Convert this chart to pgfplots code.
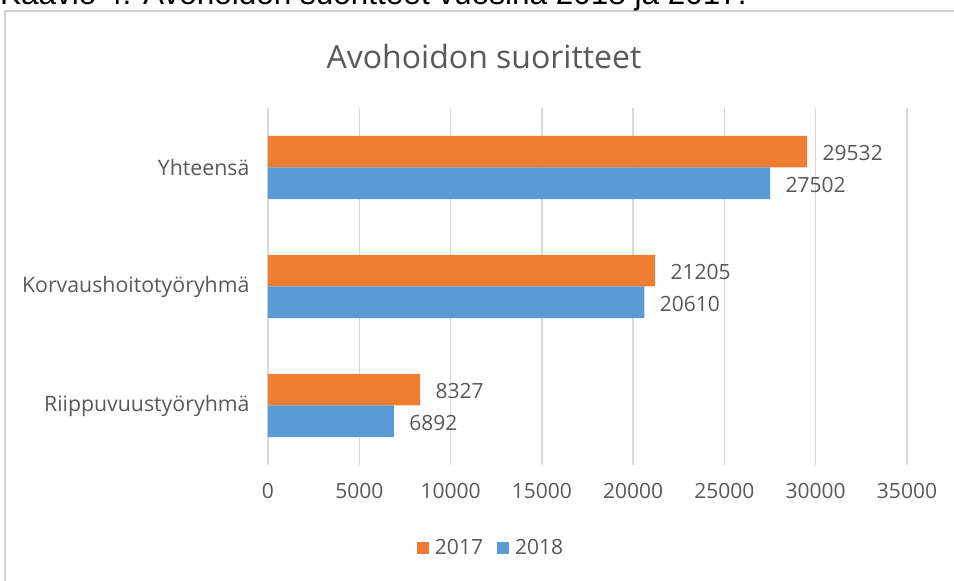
\documentclass[border=0pt]{standalone}
\usepackage{pgfplots}
\pgfplotsset{compat=1.18}
\usepackage{fontspec}
\setmainfont{Open Sans}
\newfontfamily\arialfont{Liberation Sans}
\definecolor{txt}{HTML}{595959}
\definecolor{gridc}{HTML}{D9D9D9}
\definecolor{orng}{HTML}{ED7D31}
\definecolor{blu}{HTML}{5B9BD5}
\definecolor{frame}{HTML}{D0D0D0}
\begin{document}
\begin{tikzpicture}[x=1pt,y=1pt]
\useasboundingbox (0,0) rectangle (954,581);
\fill[white] (0,0) rectangle (954,581);
\draw[frame, line width=1.5pt] (5,-10) -- (5,570) -- (970,570);
\node[anchor=base west, inner sep=0pt, font=\arialfont\fontsize{31.5}{36}\selectfont, text=black] at (0,576) {Kaavio 4. Avohoidon suoritteet vuosina 2018 ja 2017.};
\node[font=\fontsize{32}{36}\selectfont, text=txt] at (484,524) {Avohoidon suoritteet};
\begin{axis}[
  at={(268pt,175.5pt)}, anchor=origin,
  scale only axis, width=639pt, height=357pt,
  xbar, bar width=0.265,
  xmin=0, xmax=35000, ymin=-0.5, ymax=2.5,
  xtick={0,5000,...,35000},
  scaled x ticks=false,
  ytick={0,1,2},
  yticklabels={Riippuvuustyöryhmä, Korvaushoitotyöryhmä, Yhteensä},
  major tick length=0pt,
  axis line style={draw=none},
  xmajorgrids, grid style={gridc, line width=1.3pt},
  ymajorgrids=false,
  tick label style={font=\fontsize{21}{24}\selectfont, text=txt},
  xticklabel style={yshift=-15pt},
  yticklabel style={xshift=-15pt, font=\fontsize{21.3}{24}\selectfont},
  /pgf/number format/.cd, 1000 sep={}, assume math mode=true, /pgfplots/.cd,
  nodes near coords,
  every node near coord/.append style={font=\fontsize{21}{24}\selectfont, text=txt, anchor=west, xshift=12pt, yshift=-1.5pt},
  legend columns=2,
  legend style={at={(0.349,-0.2325)}, anchor=center, draw=none, fill=none, font=\fontsize{21}{24}\selectfont, text=txt,
    /tikz/every even column/.append style={column sep=12pt}},
  legend image code/.code={\fill[#1] (0pt,-6pt) rectangle (12pt,6pt);},
]
\addplot[fill=orng, draw=none, bar shift=0.1325] coordinates {(8327,0) (21205,1) (29532,2)};
\addplot[fill=blu, draw=none, bar shift=-0.1325] coordinates {(6892,0) (20610,1) (27502,2)};
\legend{\hspace{4pt}2017, \hspace{4pt}2018}
\end{axis}
\end{tikzpicture}
\end{document}
